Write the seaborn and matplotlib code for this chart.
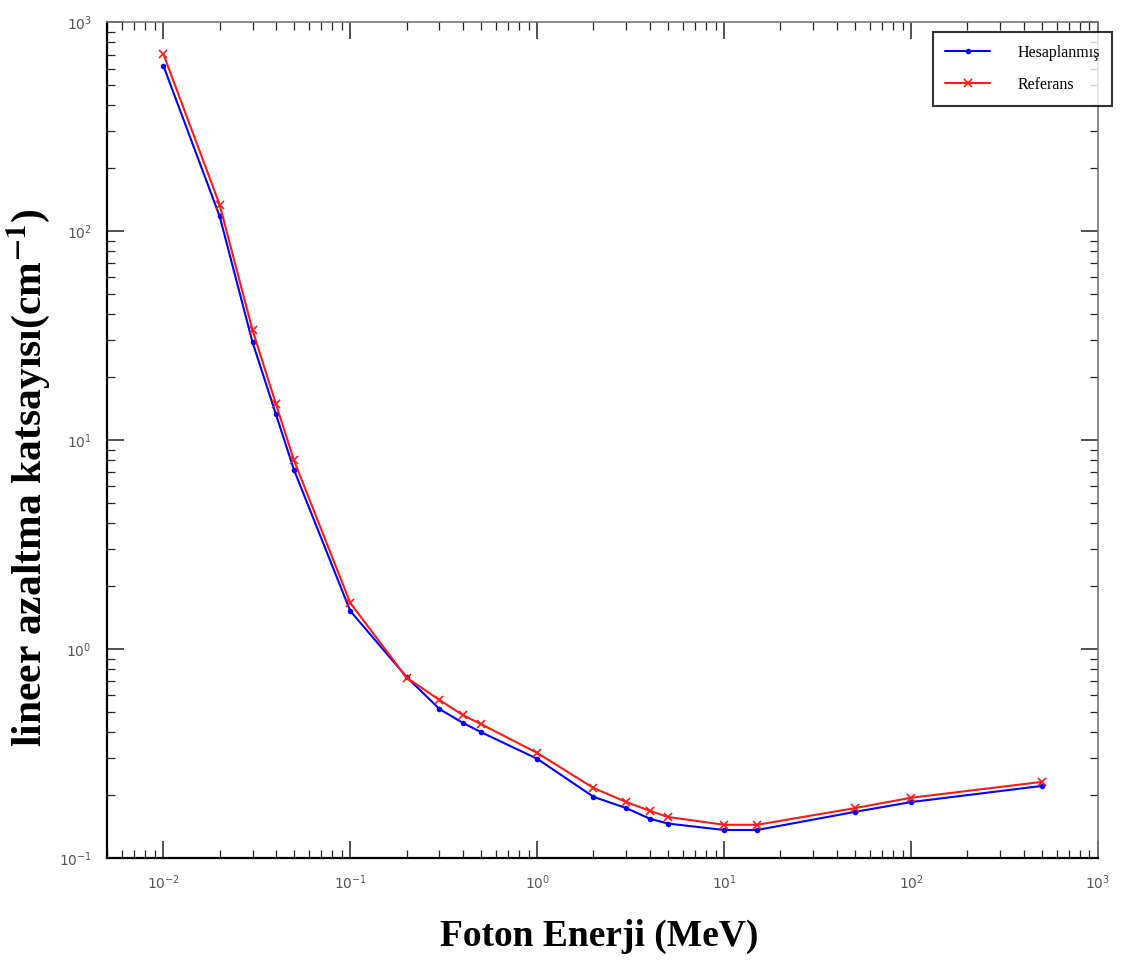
import numpy as np
import pandas as pd
import matplotlib
matplotlib.use("Agg")
import matplotlib.pyplot as plt
import seaborn as sns

# photon energy (MeV)
energy = [0.01, 0.02, 0.03, 0.04, 0.05, 0.1, 0.2, 0.3, 0.4, 0.5,
          1, 2, 3, 4, 5, 10, 15, 50, 100, 500]

# linear attenuation coefficient (cm^-1)
hesaplanmis = [620, 118, 29.4, 13.3, 7.2, 1.52, 0.735, 0.516, 0.443, 0.40,
               0.298, 0.196, 0.173, 0.154, 0.146, 0.136, 0.136, 0.166, 0.185, 0.221]
referans = [705, 134, 33.6, 14.9, 8.0, 1.66, 0.73, 0.57, 0.483, 0.437,
            0.318, 0.216, 0.185, 0.168, 0.157, 0.144, 0.144, 0.173, 0.194, 0.231]

series_names = ["Hesaplanmış", "Referans"]

sns.set_style("ticks")
plt.rcParams["font.family"] = ["Liberation Serif", "DejaVu Serif"]
plt.rcParams["mathtext.fontset"] = "stix"

fig = plt.figure(figsize=(11.21, 9.65), dpi=100)
ax = fig.add_axes([0.0955, 0.111, 0.884, 0.866])

df = pd.DataFrame({"x": energy, "y": hesaplanmis})
sns.lineplot(data=df, x="x", y="y", ax=ax, color="#0000ff", lw=1.5,
             marker="o", markersize=4, markeredgecolor="#0000ff",
             markeredgewidth=0, label=series_names[0])
df2 = pd.DataFrame({"x": energy, "y": referans})
sns.lineplot(data=df2, x="x", y="y", ax=ax, color="#ff1a1a", lw=1.5,
             marker="x", markersize=6, markeredgecolor="#ff1a1a",
             markeredgewidth=1.2, label=series_names[1])

ax.set_xscale("log")
ax.set_yscale("log")
ax.set_xlim(5e-3, 1e3)
ax.set_ylim(0.1, 1000)

ax.tick_params(which="both", direction="in", top=True, right=True,
               colors="#222222", labelcolor="#555555")
ax.tick_params(which="major", length=12, width=1.1, labelsize=10, pad=11)
ax.tick_params(which="minor", length=6, width=0.9)
for lbl in ax.get_xticklabels() + ax.get_yticklabels():
    lbl.set_family("DejaVu Sans")
for side in ["left", "bottom"]:
    ax.spines[side].set_color("black")
    ax.spines[side].set_linewidth(1.6)
for side in ["top", "right"]:
    ax.spines[side].set_color("#777777")
    ax.spines[side].set_linewidth(1.2)

ax.set_xlabel("Foton Enerji (MeV)", fontsize=27, fontweight="bold",
              va="center", color="black")
ax.set_ylabel("lineer azaltma katsayısı(cm$^{\\mathbf{-1}}$)", fontsize=30,
              fontweight="bold", va="center", color="black")
ax.xaxis.set_label_coords(0.497, -0.094)
ax.yaxis.set_label_coords(-0.080, 0.455)

leg = ax.legend(loc="upper left", bbox_to_anchor=(0.833, 0.988),
                borderaxespad=0, frameon=True, fancybox=False,
                edgecolor="black", fontsize=11.5, handlelength=2.8,
                handletextpad=1.7, labelspacing=1.0, borderpad=0.8)
leg.get_frame().set_linewidth(1.5)
for t in leg.get_texts():
    t.set_color("black")

fig.savefig("out.png", dpi=100, facecolor="white")
